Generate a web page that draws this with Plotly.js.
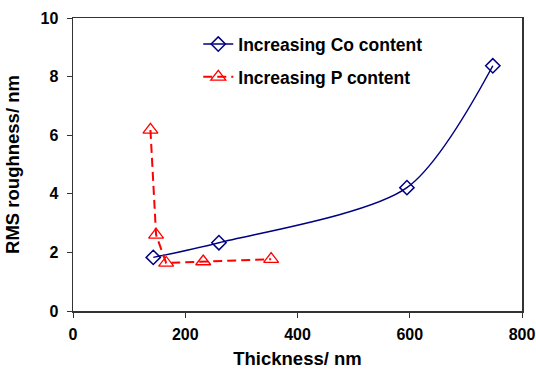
<!DOCTYPE html>
<html><head><meta charset="utf-8">
<script src="https://cdn.plot.ly/plotly-3.0.1.min.js"></script>
<style>html,body{margin:0;padding:0;background:#fff}#chart{width:536px;height:369px}</style>
</head><body><div id="chart"></div>
<script>
const coThickness = [143, 260, 595, 748];
const coRoughness = [1.83, 2.33, 4.21, 8.37];
const pThickness = [138, 148, 166, 232, 353];
const pRoughness = [6.18, 2.60, 1.64, 1.69, 1.77];
const xTicks = [0, 200, 400, 600, 800];
const yTicks = [0, 2, 4, 6, 8, 10];

const fam = 'Liberation Sans, Arial, sans-serif';
const f = (size) => ({family: fam, size: size, color: '#000', weight: 'bold'});
const traces = [
  {x: coThickness, y: coRoughness, name: 'Increasing Co content', legendgroup: 'a', mode: 'lines+markers',
   line: {color: '#000080', width: 1.5, shape: 'spline', smoothing: 0.8},
   marker: {symbol: 'diamond-open', size: 11, color: '#000080', line: {width: 1.5}}},
  {x: pThickness, y: pRoughness, name: 'Increasing P content', legendgroup: 'b', mode: 'lines+markers',
   line: {color: '#ff0000', width: 2, dash: '9px,5px'},
   marker: {symbol: 'triangle-up-open', size: 13, color: '#ff0000', line: {width: 1.3}}}
];
const layout = {
  width: 536, height: 369,
  margin: {l: 73, r: 14, t: 18, b: 58},
  paper_bgcolor: '#fff', plot_bgcolor: '#fff',
  showlegend: true,
  legend: {x: 0.279, y: 0.972, xanchor: 'left', yanchor: 'top', bgcolor: 'rgba(0,0,0,0)',
    font: f(17.5), traceorder: 'grouped', tracegroupgap: 7},
  xaxis: {range: [0, 800], tickvals: xTicks, ticktext: xTicks.map(v => '<b>' + v + '</b>'),
    showline: true, mirror: true, linecolor: '#333', linewidth: 1.5,
    ticks: 'outside', ticklen: 5, tickcolor: '#333', showgrid: false, zeroline: false,
    tickfont: f(16), ticklabelstandoff: 3,
    title: {text: 'Thickness/ nm', font: f(18.5), standoff: 10}},
  yaxis: {range: [0, 10], tickvals: yTicks, ticktext: yTicks.map(v => '<b>' + v + '</b>'),
    showline: true, mirror: true, linecolor: '#333', linewidth: 1.5,
    ticks: 'outside', ticklen: 5, tickcolor: '#333', showgrid: false, zeroline: false,
    tickfont: f(16), ticklabelstandoff: 5,
    title: {text: 'RMS roughness/ nm', font: f(18.5), standoff: 16}}
};
Plotly.newPlot('chart', traces, layout, {displayModeBar: false, staticPlot: true});
</script></body></html>
